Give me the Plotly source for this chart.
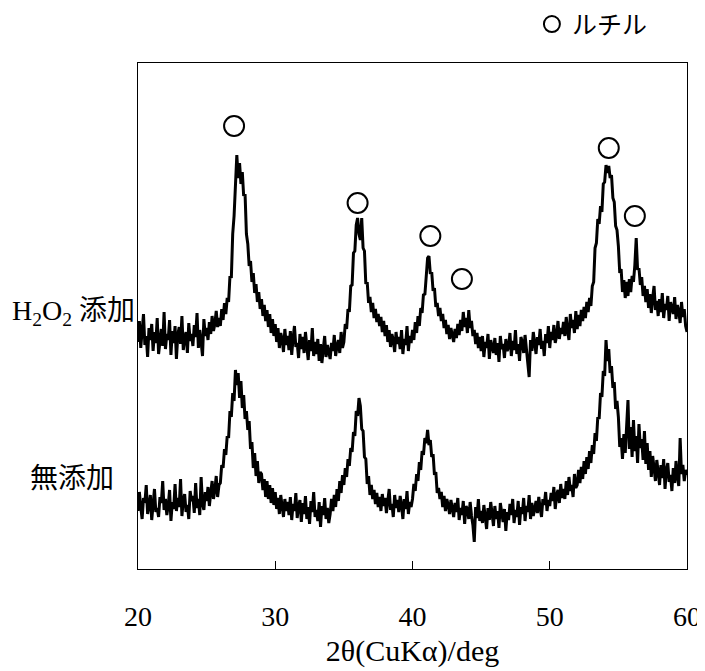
import numpy as np
import plotly.graph_objects as go

# Scan grid: 2θ from 20° to 60°, 0.1° step
TWO_THETA_START = 20.0
TWO_THETA_STEP = 0.1

# Intensity (a.u.) – sample without additive (無添加)
NO_ADDITIVE = [
    58, 77, 62, 50, 71, 66, 84, 55, 63, 74,
    49, 68, 80, 57, 61, 52, 72, 66, 88, 59,
    70, 54, 63, 79, 48, 67, 60, 85, 58, 71,
    62, 90, 53, 69, 75, 57, 64, 50, 78, 68,
    73, 56, 86, 61, 70, 54, 92, 65, 59, 77,
    68, 82, 63, 76, 88, 70, 79, 93, 72, 84,
    86, 104, 101, 120, 114, 133, 131, 158, 152, 176,
    168, 199, 184, 196, 171, 188, 161, 174, 150, 158,
    139, 148, 120, 127, 101, 116, 93, 108, 86, 97,
    95, 79, 90, 72, 88, 70, 84, 66, 81, 64,
    77, 60, 71, 55, 74, 63, 52, 70, 58, 67,
    54, 72, 49, 65, 58, 76, 51, 63, 69, 47,
    66, 55, 73, 50, 62, 45, 68, 57, 77, 52,
    59, 48, 67, 42, 63, 54, 71, 50, 61, 46,
    55, 70, 58, 74, 62, 80, 68, 88, 76, 94,
    84, 101, 92, 110, 103, 121, 117, 137, 133, 158,
    153, 171, 163, 140, 138, 112, 110, 85, 93, 74,
    84, 70, 79, 65, 76, 62, 72, 58, 75, 63,
    71, 56, 68, 80, 59, 65, 52, 74, 61, 69,
    57, 73, 64, 50, 70, 60, 78, 55, 67, 62,
    70, 85, 78, 95, 88, 107, 99, 118, 114, 131,
    126, 139, 124, 129, 112, 115, 94, 97, 76, 81,
    70, 77, 62, 73, 58, 70, 64, 55, 69, 60,
    52, 66, 57, 71, 49, 61, 54, 68, 45, 63,
    60, 50, 67, 53, 44, 27, 62, 51, 70, 48,
    58, 46, 64, 52, 40, 61, 49, 67, 55, 43,
    63, 50, 58, 41, 66, 53, 47, 60, 38, 57,
    49, 65, 54, 70, 46, 59, 52, 68, 44, 62,
    55, 71, 48, 63, 57, 74, 50, 66, 53, 60,
    68, 56, 72, 61, 52, 70, 64, 77, 58, 69,
    63, 76, 68, 82, 60, 74, 79, 66, 85, 71,
    80, 70, 88, 74, 92, 78, 84, 72, 95, 81,
    84, 99, 86, 102, 90, 108, 95, 112, 100, 118,
    106, 124, 115, 136, 128, 152, 150, 176, 172, 198,
    193, 229, 208, 220, 196, 203, 181, 187, 160, 168,
    152, 122, 131, 110, 135, 116, 139, 169, 120, 142,
    112, 149, 118, 133, 106, 145, 121, 130, 109, 138,
    105, 126, 99, 118, 92, 113, 101, 88, 109, 96,
    84, 104, 91, 110, 80, 99, 106, 87, 94, 78,
    101, 86, 108, 92, 83, 131, 95, 104, 88, 99,
    94,
]

# Intensity (a.u.) – sample with H2O2 (H2O2添加)
H2O2_ADDED = [
    64, 85, 58, 73, 92, 61, 70, 49, 78, 66,
    82, 55, 74, 63, 88, 52, 69, 77, 60, 94,
    57, 72, 66, 86, 51, 75, 63, 80, 47, 71,
    79, 62, 90, 56, 68, 74, 53, 83, 65, 72,
    60, 81, 69, 93, 58, 76, 64, 50, 87, 70,
    78, 66, 84, 72, 90, 75, 82, 95, 79, 88,
    80, 97, 86, 103, 92, 108, 104, 130, 128, 172,
    190, 232, 251, 228, 243, 222, 234, 210, 212, 172,
    162, 140, 145, 124, 133, 113, 122, 104, 114, 97,
    107, 90, 101, 85, 96, 79, 92, 73, 87, 70,
    82, 64, 78, 58, 73, 67, 54, 77, 61, 70,
    56, 75, 51, 68, 80, 59, 63, 48, 72, 57,
    69, 53, 74, 60, 46, 66, 55, 78, 50, 64,
    52, 67, 45, 62, 43, 57, 70, 49, 61, 54,
    47, 63, 55, 71, 50, 60, 66, 53, 74, 58,
    64, 82, 77, 97, 94, 120, 121, 153, 155, 181,
    188, 172, 166, 188, 158, 155, 122, 124, 103, 109,
    94, 103, 88, 97, 84, 92, 80, 89, 74, 85,
    70, 81, 64, 76, 59, 72, 66, 54, 74, 62,
    69, 57, 76, 52, 67, 61, 80, 55, 70, 63,
    76, 66, 84, 73, 90, 80, 98, 93, 112, 111,
    134, 148, 150, 132, 134, 115, 118, 99, 103, 90,
    98, 85, 92, 78, 86, 72, 81, 67, 78, 70,
    64, 77, 68, 82, 71, 86, 75, 94, 79, 88,
    73, 96, 78, 85, 70, 76, 62, 73, 58, 69,
    55, 70, 49, 64, 58, 72, 47, 66, 60, 53,
    68, 51, 63, 44, 70, 57, 62, 48, 67, 55,
    59, 73, 50, 65, 56, 76, 52, 62, 45, 69,
    64, 53, 71, 58, 48, 29, 66, 55, 74, 60,
    52, 69, 61, 77, 57, 65, 50, 72, 63, 80,
    58, 74, 66, 81, 63, 70, 85, 67, 78, 72,
    84, 70, 89, 75, 66, 92, 78, 86, 73, 95,
    77, 91, 80, 96, 85, 99, 88, 104, 94, 108,
    100, 120, 124, 158, 163, 187, 182, 200, 194, 222,
    224, 241, 233, 240, 228, 231, 208, 204, 180, 176,
    160, 133, 137, 114, 126, 108, 124, 110, 127, 114,
    130, 124, 141, 168, 136, 138, 121, 129, 110, 120,
    104, 117, 98, 112, 93, 108, 120, 96, 105, 90,
    107, 94, 113, 88, 102, 96, 110, 85, 104, 98,
    92, 109, 87, 101, 95, 83, 104, 89, 97, 80,
    74,
]

# Rutile peak labels (○): 2θ position and label height (a.u., stacked scale)
RUTILE_2THETA = [27.0, 36.0, 41.3, 43.6, 54.3, 56.2]
RUTILE_LABEL_Y = [443, 366, 333, 290, 421, 353]

STACK_OFFSET = 163  # vertical offset of the upper pattern
Y_RANGE = [0, 506]
X_TICKS = [20, 30, 40, 50, 60]

SERIF = "Liberation Serif, Times New Roman, Noto Sans CJK JP, serif"

n = len(NO_ADDITIVE)
two_theta = np.round(TWO_THETA_START + TWO_THETA_STEP * np.arange(n), 2)

fig = go.Figure()
fig.add_trace(go.Scatter(
    x=two_theta, y=NO_ADDITIVE, mode="lines",
    line=dict(color="black", width=3), showlegend=False, name="無添加",
))
fig.add_trace(go.Scatter(
    x=two_theta, y=np.array(H2O2_ADDED) + STACK_OFFSET, mode="lines",
    line=dict(color="black", width=3), showlegend=False, name="H2O2添加",
))
fig.add_trace(go.Scatter(
    x=RUTILE_2THETA, y=RUTILE_LABEL_Y, mode="markers", name="ルチル",
    marker=dict(symbol="circle-open", size=20, color="black",
                line=dict(width=2, color="black")),
    showlegend=True, cliponaxis=False,
))

fig.update_layout(
    width=705, height=671,
    margin=dict(l=130, r=26, t=55, b=110, autoexpand=False),
    paper_bgcolor="white", plot_bgcolor="white",
    font=dict(family=SERIF, size=28, color="black"),
    showlegend=True,
    legend=dict(
        x=0.7175, y=1.122, xanchor="left", yanchor="top",
        font=dict(size=25, family=SERIF), bgcolor="rgba(0,0,0,0)",
        itemsizing="trace",
    ),
    xaxis=dict(
        range=[20, 60], tickvals=X_TICKS, ticktext=[str(v) for v in X_TICKS],
        ticks="inside", ticklen=8, tickcolor="black", tickwidth=1,
        showline=True, linecolor="black", linewidth=1, mirror=True,
        showgrid=False, zeroline=False, automargin=False,
        tickfont=dict(size=28, family=SERIF),
        ticklabelstandoff=22,
        title=dict(text="2θ(CuKα)/deg", font=dict(size=30, family=SERIF), standoff=9),
    ),
    yaxis=dict(
        range=Y_RANGE, showticklabels=False, ticks="",
        showline=True, linecolor="black", linewidth=1, mirror=True,
        showgrid=False, zeroline=False, automargin=False,
    ),
    annotations=[
        dict(text="H<sub>2</sub>O<sub>2</sub> 添加", xref="paper", yref="paper",
             x=0, y=0.506, xanchor="right", yanchor="middle", xshift=-1,
             showarrow=False, font=dict(size=28, family=SERIF)),
        dict(text="無添加", xref="paper", yref="paper",
             x=0, y=0.178, xanchor="right", yanchor="middle", xshift=-22,
             showarrow=False, font=dict(size=28, family=SERIF)),
    ],
)

fig.write_html("out.html")
